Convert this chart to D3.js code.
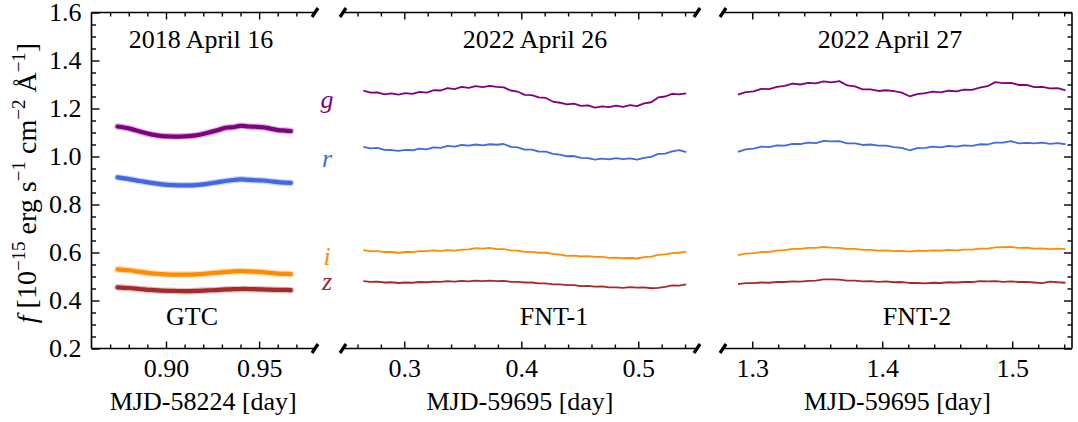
<!DOCTYPE html>
<html>
<head>
<meta charset="utf-8">
<script src="https://cdn.jsdelivr.net/npm/d3@7/dist/d3.min.js"></script>
<style>
  body { margin: 0; background: #fff; }
  svg text { font-family: "Liberation Serif", "Times New Roman", serif; fill: #000; }
</style>
</head>
<body>
<svg id="chart" width="1078" height="422"></svg>
<script>
// bands and colours
const bands = ['g', 'r', 'i', 'z'];
const bandColors = ['purple', 'royalblue', 'darkorange', 'brown'];

const nightTitles = ['2018 April 16', '2022 April 26', '2022 April 27'];
const telescopes = ['GTC', 'FNT-1', 'FNT-2'];
const xTitles = ['MJD-58224 [day]', 'MJD-59695 [day]', 'MJD-59695 [day]'];

const yMajor = [0.2, 0.4, 0.6, 0.8, 1.0, 1.2, 1.4, 1.6];
const yMinor = [0.25, 0.3, 0.35, 0.45, 0.5, 0.55, 0.65, 0.7, 0.75, 0.85, 0.9, 0.95,
                1.05, 1.1, 1.15, 1.25, 1.3, 1.35, 1.45, 1.5, 1.55];

const xMajor0 = [0.90, 0.95];
const xMinor0 = [0.87, 0.88, 0.89, 0.91, 0.92, 0.93, 0.94, 0.96, 0.97];
const xMajor1 = [0.3, 0.4, 0.5];
const xMinor1 = [0.26, 0.28, 0.32, 0.34, 0.36, 0.38, 0.42, 0.44, 0.46, 0.48, 0.52, 0.54];
const xMajor2 = [1.3, 1.4, 1.5];
const xMinor2 = [1.32, 1.34, 1.36, 1.38, 1.42, 1.44, 1.46, 1.48, 1.52, 1.54];

// GTC, 2018 April 16
const t0 = [0.874, 0.880, 0.886, 0.892, 0.898, 0.904, 0.910, 0.916, 0.922, 0.928,
            0.932, 0.936, 0.940, 0.944, 0.948, 0.952, 0.956, 0.960, 0.964, 0.967];
const g0 = [1.125, 1.117, 1.104, 1.092, 1.085, 1.083, 1.084, 1.088, 1.098, 1.110,
            1.120, 1.122, 1.128, 1.125, 1.124, 1.122, 1.116, 1.110, 1.108, 1.106];
const r0 = [0.913, 0.906, 0.898, 0.890, 0.884, 0.881, 0.880, 0.881, 0.886, 0.893,
            0.898, 0.902, 0.905, 0.903, 0.901, 0.900, 0.897, 0.893, 0.891, 0.890];
const i0 = [0.530, 0.526, 0.519, 0.513, 0.510, 0.508, 0.508, 0.509, 0.512, 0.516,
            0.519, 0.521, 0.523, 0.521, 0.520, 0.518, 0.515, 0.512, 0.511, 0.510];
const z0 = [0.455, 0.452, 0.448, 0.444, 0.441, 0.440, 0.439, 0.440, 0.442, 0.444,
            0.446, 0.447, 0.448, 0.448, 0.447, 0.446, 0.445, 0.444, 0.444, 0.443];

// FNT-1, 2022 April 26
const t1 = [0.265, 0.271, 0.277, 0.283, 0.289, 0.295, 0.301, 0.307, 0.313, 0.319,
            0.325, 0.331, 0.337, 0.343, 0.349, 0.355, 0.361, 0.367, 0.373, 0.379,
            0.385, 0.391, 0.397, 0.403, 0.409, 0.415, 0.421, 0.427, 0.433, 0.439,
            0.445, 0.451, 0.457, 0.463, 0.469, 0.475, 0.481, 0.487, 0.493, 0.499,
            0.505, 0.511, 0.517, 0.523, 0.529, 0.535, 0.541];
const g1 = [1.274, 1.266, 1.267, 1.259, 1.263, 1.258, 1.264, 1.261, 1.269, 1.266,
            1.276, 1.275, 1.285, 1.281, 1.290, 1.286, 1.293, 1.289, 1.294, 1.290,
            1.288, 1.275, 1.270, 1.257, 1.256, 1.246, 1.244, 1.229, 1.224, 1.217,
            1.220, 1.211, 1.213, 1.204, 1.209, 1.206, 1.212, 1.207, 1.214, 1.210,
            1.221, 1.226, 1.246, 1.250, 1.261, 1.259, 1.263];
const r1 = [1.040, 1.034, 1.036, 1.028, 1.027, 1.023, 1.028, 1.026, 1.033, 1.030,
            1.038, 1.036, 1.044, 1.041, 1.048, 1.045, 1.050, 1.046, 1.051, 1.049,
            1.052, 1.040, 1.038, 1.029, 1.029, 1.020, 1.020, 1.011, 1.008, 1.001,
            1.002, 0.994, 0.993, 0.987, 0.991, 0.988, 0.993, 0.989, 0.992, 0.987,
            0.994, 0.998, 1.011, 1.012, 1.021, 1.027, 1.018];
const i1 = [0.610, 0.606, 0.606, 0.602, 0.602, 0.599, 0.602, 0.602, 0.606, 0.606,
            0.609, 0.607, 0.610, 0.608, 0.612, 0.613, 0.618, 0.616, 0.619, 0.614,
            0.614, 0.609, 0.608, 0.603, 0.603, 0.599, 0.599, 0.594, 0.591, 0.586,
            0.587, 0.584, 0.585, 0.582, 0.582, 0.578, 0.579, 0.576, 0.577, 0.575,
            0.581, 0.583, 0.590, 0.592, 0.597, 0.599, 0.604];
const z1 = [0.481, 0.478, 0.479, 0.475, 0.476, 0.473, 0.475, 0.474, 0.477, 0.476,
            0.479, 0.478, 0.481, 0.479, 0.482, 0.480, 0.483, 0.481, 0.483, 0.481,
            0.482, 0.478, 0.478, 0.475, 0.475, 0.471, 0.471, 0.467, 0.467, 0.464,
            0.464, 0.460, 0.461, 0.458, 0.459, 0.455, 0.455, 0.453, 0.456, 0.454,
            0.455, 0.451, 0.453, 0.457, 0.463, 0.462, 0.467];

// FNT-2, 2022 April 27
const t2 = [1.289, 1.295, 1.301, 1.307, 1.313, 1.319, 1.325, 1.331, 1.337, 1.343,
            1.349, 1.355, 1.361, 1.367, 1.373, 1.379, 1.385, 1.391, 1.397, 1.403,
            1.409, 1.415, 1.421, 1.427, 1.433, 1.439, 1.445, 1.451, 1.457, 1.463,
            1.469, 1.475, 1.481, 1.487, 1.493, 1.499, 1.505, 1.511, 1.517, 1.523,
            1.529, 1.535, 1.541];
const g2 = [1.258, 1.268, 1.271, 1.282, 1.281, 1.290, 1.294, 1.304, 1.300, 1.307,
            1.305, 1.313, 1.309, 1.314, 1.296, 1.292, 1.280, 1.280, 1.273, 1.276,
            1.272, 1.266, 1.251, 1.260, 1.264, 1.270, 1.267, 1.274, 1.271, 1.279,
            1.278, 1.287, 1.293, 1.310, 1.306, 1.307, 1.298, 1.298, 1.289, 1.290,
            1.284, 1.285, 1.276];
const r2 = [1.019, 1.030, 1.033, 1.041, 1.039, 1.046, 1.045, 1.053, 1.052, 1.058,
            1.056, 1.065, 1.063, 1.064, 1.055, 1.055, 1.048, 1.050, 1.045, 1.045,
            1.039, 1.036, 1.026, 1.035, 1.036, 1.041, 1.038, 1.044, 1.041, 1.046,
            1.044, 1.051, 1.050, 1.058, 1.058, 1.064, 1.055, 1.057, 1.055, 1.058,
            1.053, 1.056, 1.051];
const i2 = [0.589, 0.595, 0.597, 0.602, 0.603, 0.608, 0.610, 0.615, 0.615, 0.619,
            0.619, 0.623, 0.620, 0.619, 0.615, 0.615, 0.611, 0.611, 0.608, 0.609,
            0.606, 0.607, 0.604, 0.608, 0.607, 0.609, 0.608, 0.611, 0.609, 0.612,
            0.612, 0.616, 0.616, 0.621, 0.622, 0.623, 0.619, 0.620, 0.616, 0.617,
            0.614, 0.616, 0.614];
const z2 = [0.468, 0.472, 0.472, 0.475, 0.474, 0.478, 0.477, 0.480, 0.479, 0.482,
            0.483, 0.488, 0.488, 0.487, 0.483, 0.483, 0.480, 0.481, 0.478, 0.480,
            0.476, 0.477, 0.473, 0.473, 0.471, 0.474, 0.473, 0.476, 0.475, 0.477,
            0.477, 0.481, 0.480, 0.481, 0.478, 0.480, 0.477, 0.478, 0.475, 0.472,
            0.479, 0.476, 0.474];

const yTop = 12.5, yBot = 348.5;
const FS = 26;

const panels = [
  { px: [91.5, 315], domain: [0.86, 0.98], major: xMajor0, minor: xMinor0, fmt: d3.format('.2f'),
    t: t0, series: [g0, r0, i0, z0], thick: true },
  { px: [343, 697], domain: [0.2476, 0.5502], major: xMajor1, minor: xMinor1, fmt: d3.format('.1f'),
    t: t1, series: [g1, r1, i1, z1], thick: false },
  { px: [723, 1072], domain: [1.2775, 1.5460], major: xMajor2, minor: xMinor2, fmt: d3.format('.1f'),
    t: t2, series: [g2, r2, i2, z2], thick: false }
];

const svg = d3.select('#chart');
const y = d3.scaleLinear().domain([0.2, 1.6]).range([yBot, yTop]);

panels.forEach((p, k) => {
  const x = d3.scaleLinear().domain(p.domain).range(p.px);
  const g = svg.append('g');

  // light curves
  const line = d3.line()
    .x((d, j) => x(p.t[j]))
    .y(d => y(d))
    .curve(p.thick ? d3.curveCatmullRom : d3.curveLinear);

  p.series.forEach((vals, b) => {
    if (p.thick) {
      g.append('path').datum(vals).attr('d', line)
        .attr('fill', 'none').attr('stroke', bandColors[b])
        .attr('stroke-width', 6.5).attr('stroke-opacity', 0.3)
        .attr('stroke-linecap', 'round');
      g.append('path').datum(vals).attr('d', line)
        .attr('fill', 'none').attr('stroke', bandColors[b])
        .attr('stroke-width', 4.2).attr('stroke-linecap', 'round');
    } else {
      g.append('path').datum(vals).attr('d', line)
        .attr('fill', 'none').attr('stroke', bandColors[b])
        .attr('stroke-width', 1.8).attr('stroke-linejoin', 'round');
    }
  });

  // spines
  g.append('line').attr('x1', p.px[0]).attr('x2', p.px[1]).attr('y1', yTop).attr('y2', yTop)
    .attr('stroke', '#000').attr('stroke-width', 1.6);
  g.append('line').attr('x1', p.px[0]).attr('x2', p.px[1]).attr('y1', yBot).attr('y2', yBot)
    .attr('stroke', '#000').attr('stroke-width', 1.6);

  // x axes (inward ticks, top mirrored)
  const bottomMajor = g.append('g').attr('transform', `translate(0,${yBot})`)
    .call(d3.axisBottom(x).tickValues(p.major).tickFormat(p.fmt).tickSize(-7).tickSizeOuter(0).tickPadding(10));
  g.append('g').attr('transform', `translate(0,${yBot})`)
    .call(d3.axisBottom(x).tickValues(p.minor).tickFormat('').tickSize(-4).tickSizeOuter(0));
  g.append('g').attr('transform', `translate(0,${yTop})`)
    .call(d3.axisTop(x).tickValues(p.major).tickFormat('').tickSize(-7).tickSizeOuter(0));
  g.append('g').attr('transform', `translate(0,${yTop})`)
    .call(d3.axisTop(x).tickValues(p.minor).tickFormat('').tickSize(-4).tickSizeOuter(0));

  bottomMajor.selectAll('text').attr('font-size', FS).attr('font-family', null);

  // y axes on outer sides
  if (k === 0) {
    const left = g.append('g').attr('transform', `translate(${p.px[0]},0)`)
      .call(d3.axisLeft(y).tickValues(yMajor).tickFormat(d3.format('.1f')).tickSize(-8).tickSizeOuter(0).tickPadding(10));
    g.append('g').attr('transform', `translate(${p.px[0]},0)`)
      .call(d3.axisLeft(y).tickValues(yMinor).tickFormat('').tickSize(-4.5).tickSizeOuter(0));
    left.selectAll('text').attr('font-size', FS).attr('font-family', null);
    g.append('line').attr('x1', p.px[0]).attr('x2', p.px[0]).attr('y1', yTop).attr('y2', yBot)
      .attr('stroke', '#000').attr('stroke-width', 1.6);
  }
  if (k === panels.length - 1) {
    g.append('g').attr('transform', `translate(${p.px[1]},0)`)
      .call(d3.axisRight(y).tickValues(yMajor).tickFormat('').tickSize(-8).tickSizeOuter(0));
    g.append('g').attr('transform', `translate(${p.px[1]},0)`)
      .call(d3.axisRight(y).tickValues(yMinor).tickFormat('').tickSize(-4.5).tickSizeOuter(0));
    g.append('line').attr('x1', p.px[1]).attr('x2', p.px[1]).attr('y1', yTop).attr('y2', yBot)
      .attr('stroke', '#000').attr('stroke-width', 1.6);
  }
  g.selectAll('.domain').remove();
  g.selectAll('.tick line').attr('stroke', '#000').attr('stroke-width', 1.4);

  // break marks
  const ends = [];
  if (k > 0) ends.push(p.px[0]);
  if (k < panels.length - 1) ends.push(p.px[1]);
  ends.forEach(ex => {
    [yTop, yBot].forEach(ey => {
      g.append('line').attr('x1', ex - 3).attr('y1', ey + 4.5).attr('x2', ex + 3).attr('y2', ey - 4.5)
        .attr('stroke', '#000').attr('stroke-width', 3.2);
    });
  });

  // texts
  const cx = (p.px[0] + p.px[1]) / 2;
  const titleX = [201, 535, 890][k];
  const telX = [192, 554, 917][k];
  g.append('text').attr('x', titleX).attr('y', 48).attr('text-anchor', 'middle')
    .attr('font-size', FS).text(nightTitles[k]);
  g.append('text').attr('x', telX).attr('y', 325).attr('text-anchor', 'middle')
    .attr('font-size', FS).text(telescopes[k]);
  g.append('text').attr('x', cx).attr('y', 410).attr('text-anchor', 'middle')
    .attr('font-size', FS).text(xTitles[k]);
});

// band labels between first and second panel
const bandLabelY = [1.202, 0.956, 0.548, 0.444];
bands.forEach((b, j) => {
  svg.append('text').attr('x', 327).attr('y', y(bandLabelY[j])).attr('text-anchor', 'middle')
    .attr('font-size', FS).attr('font-style', 'italic').style('fill', bandColors[j]).text(b);
});

// y label
const supFS = 19, supDy = 11;
const yl = svg.append('text')
  .attr('transform', `translate(36,183) rotate(-90)`)
  .attr('text-anchor', 'middle').attr('font-size', 28);
yl.append('tspan').attr('font-style', 'italic').text('f');
yl.append('tspan').text(' [10');
yl.append('tspan').attr('font-size', supFS).attr('dy', -supDy).text('\u221215');
yl.append('tspan').attr('dy', supDy).text(' erg s');
yl.append('tspan').attr('font-size', supFS).attr('dy', -supDy).text('\u22121');
yl.append('tspan').attr('dy', supDy).text(' cm');
yl.append('tspan').attr('font-size', supFS).attr('dy', -supDy).text('\u22122');
yl.append('tspan').attr('dy', supDy).text(' \u00c5');
yl.append('tspan').attr('font-size', supFS).attr('dy', -supDy).text('\u22121');
yl.append('tspan').attr('dy', supDy).text(']');
</script>
</body>
</html>
